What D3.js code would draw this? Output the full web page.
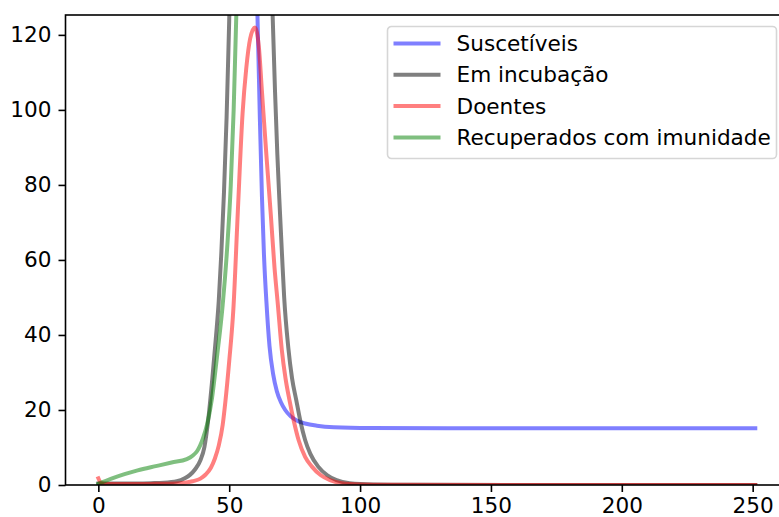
<!DOCTYPE html>
<html>
<head>
<meta charset="utf-8">
<script src="https://cdn.jsdelivr.net/npm/d3@7"></script>
<style>
  html, body { margin: 0; padding: 0; background: #fff; }
  svg { display: block; overflow: hidden; }
  text { font-family: "DejaVu Sans", sans-serif; }
</style>
</head>
<body>
<div id="chart"></div>
<script>
// series, [time, value]
const suscetiveis = [
  [0, 400], [40, 390], [50, 330], [55, 250], [58.5, 175], [60, 142], [60.8, 125],
  [61.7, 98], [62.5, 77], [63.3, 61], [64.2, 49], [65.4, 37], [66.8, 29.5],
  [68.2, 25], [69.8, 22], [71.4, 20], [73.5, 18.3], [75.8, 17.2], [79, 16.4],
  [83.5, 15.8], [90, 15.4], [104, 15.2], [150, 15.1], [200, 15.1], [251, 15.1]
];
const incubacao = [
  [0, 0.4], [10, 0.4], [20, 0.5], [25, 0.6], [30, 1.0], [33, 1.8], [35, 2.7],
  [37, 4.2], [39, 6.6], [40.5, 10], [42, 17.5], [43.5, 28], [45, 40], [46, 49],
  [47, 62], [48, 78], [49, 98], [50, 124], [51, 150], [58, 180], [65, 152],
  [66.6, 125], [67.5, 105], [68.4, 88], [69.3, 74], [70.2, 61], [71, 50],
  [72.6, 36.5], [74, 28.5], [75.6, 22.7], [77.2, 17], [79, 12], [81, 8.3],
  [84, 4.9], [87.5, 2.6], [91, 1.3], [96, 0.5], [105, 0.15], [120, 0.05], [251, 0]
];
const doentes = [
  [0, 1.8], [1, 0.6], [3, 0.3], [10, 0.25], [20, 0.3], [30, 0.4], [33, 0.6],
  [36, 1.0], [39, 1.7], [41, 2.8], [43, 4.6], [44.5, 7], [46, 10.5], [47.5, 16],
  [48.5, 22], [50, 33], [51.6, 47], [53.3, 73], [55.1, 99], [56.5, 111],
  [58, 119], [59.8, 122], [61.3, 117], [62.5, 105], [64.2, 88], [65.9, 72],
  [67.3, 58], [68.6, 48], [70.1, 36], [71.5, 28.5], [73, 22.7], [74.7, 17],
  [76.5, 12], [79, 7.5], [81.6, 4.9], [85, 2.6], [88.5, 1.3], [93, 0.5],
  [100, 0.15], [110, 0.05], [251, 0]
];
const recuperados = [
  [0, 0.3], [5, 1.7], [10, 2.9], [15, 3.9], [22.4, 5.1], [28, 6], [33.8, 6.9],
  [36, 7.8], [37.7, 9], [40, 12.5], [41.5, 16], [43.4, 23], [45.3, 34],
  [47.5, 48], [49.2, 63], [50.6, 80], [51.7, 100], [52.7, 125], [54, 150],
  [60, 200], [100, 250], [251, 260]
];

const seriesNames = ["Suscetíveis", "Em incubação", "Doentes", "Recuperados com imunidade"];
const seriesData = [suscetiveis, incubacao, doentes, recuperados];
const seriesColors = ["#0000ff", "#000000", "#ff0000", "#008000"];

const xTicks = [0, 50, 100, 150, 200, 250];
const yTicks = [0, 20, 40, 60, 80, 100, 120];

const width = 779, height = 517;
const plot = { left: 65.5, top: 15, right: 788, bottom: 485 };
const fontSize = 21.6;

const svg = d3.select("#chart").append("svg")
  .attr("width", width)
  .attr("height", height);

const x = d3.scaleLinear().domain([-12.55, 263.5]).range([plot.left, plot.right]);
const y = d3.scaleLinear().domain([0, 125.3]).range([plot.bottom, plot.top]);

svg.append("clipPath").attr("id", "plotclip")
  .append("rect")
  .attr("x", plot.left).attr("y", plot.top)
  .attr("width", plot.right - plot.left).attr("height", plot.bottom - plot.top);

const line = d3.line()
  .x(d => x(d[0]))
  .y(d => y(d[1]))
  .curve(d3.curveMonotoneX);

const lines = svg.append("g").attr("clip-path", "url(#plotclip)");
seriesData.forEach((s, i) => {
  lines.append("path")
    .datum(s)
    .attr("d", line)
    .attr("fill", "none")
    .attr("stroke", seriesColors[i])
    .attr("stroke-opacity", 0.5)
    .attr("stroke-width", 4)
    .attr("stroke-linecap", "square")
    .attr("stroke-linejoin", "round");
});

// axes
const xAxis = d3.axisBottom(x).tickValues(xTicks).tickSize(7).tickPadding(6);
const yAxis = d3.axisLeft(y).tickValues(yTicks).tickSize(7).tickPadding(7);

const gx = svg.append("g").attr("transform", `translate(0,${plot.bottom})`).call(xAxis);
const gy = svg.append("g").attr("transform", `translate(${plot.left},0)`).call(yAxis);
[gx, gy].forEach(g => {
  g.select(".domain").remove();
  g.selectAll(".tick line").attr("stroke", "#000").attr("stroke-width", 1.6);
  g.selectAll(".tick text")
    .attr("fill", "#000")
    .attr("font-size", fontSize)
    .attr("font-family", "DejaVu Sans, sans-serif");
});

// spines
svg.append("rect")
  .attr("x", plot.left).attr("y", plot.top)
  .attr("width", plot.right - plot.left).attr("height", plot.bottom - plot.top)
  .attr("fill", "none")
  .attr("stroke", "#000")
  .attr("stroke-width", 1.6);

// legend
const legend = svg.append("g").attr("transform", "translate(387.5,26.5)");
legend.append("rect")
  .attr("width", 389).attr("height", 132)
  .attr("rx", 4).attr("ry", 4)
  .attr("fill", "#fff").attr("fill-opacity", 0.8)
  .attr("stroke", "#d6d6d6").attr("stroke-width", 1.6);

seriesNames.forEach((name, i) => {
  const row = legend.append("g").attr("transform", `translate(0,${17 + i * 31.3})`);
  row.append("line")
    .attr("x1", 6).attr("x2", 53)
    .attr("stroke", seriesColors[i])
    .attr("stroke-opacity", 0.5)
    .attr("stroke-width", 4);
  row.append("text")
    .attr("x", 69).attr("dy", "0.35em")
    .attr("font-size", fontSize)
    .attr("fill", "#000")
    .text(name);
});
</script>
</body>
</html>
